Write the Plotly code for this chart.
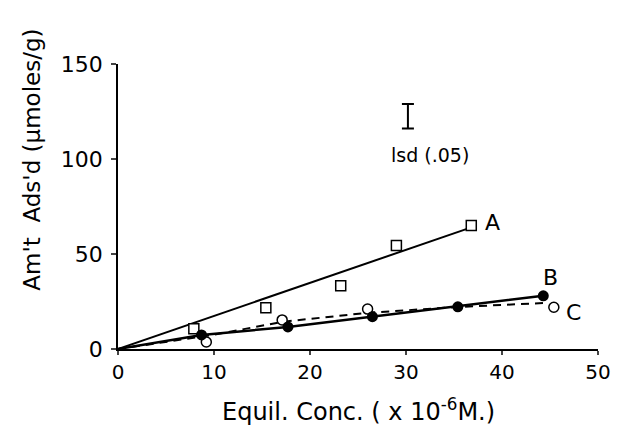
import plotly.graph_objects as go

# Series A (open squares) and its fitted line
a_x = [7.9, 15.4, 23.2, 29.0, 36.8]
a_y = [10.6, 21.7, 33.3, 54.5, 65.0]
a_fit_x = [0, 36.5]
a_fit_y = [0, 63.5]

# Series B (filled circles), joined from origin
b_x = [8.7, 17.7, 26.5, 35.4, 44.3]
b_y = [7.4, 11.6, 17.0, 22.2, 28.0]

# Series C (open circles) and dashed curve
c_x = [9.2, 17.1, 26.0, 45.4]
c_y = [3.7, 15.3, 21.0, 22.0]
c_fit_x = [0, 9.9, 17.1, 25.9, 35.0, 44.7]
c_fit_y = [0, 7.4, 14.3, 19.0, 22.0, 24.3]

# LSD bar
lsd_x = [30.2]
lsd_y = [122.5]
lsd_half = [6.5]

x_ticks = [0, 10, 20, 30, 40, 50]
y_ticks = [0, 50, 100, 150]

FONT = "DejaVu Sans"
fig = go.Figure()

fig.add_trace(go.Scatter(x=a_fit_x, y=a_fit_y, mode="lines",
                         line=dict(color="black", width=2), cliponaxis=False))
fig.add_trace(go.Scatter(x=[0] + b_x, y=[0] + b_y, mode="lines",
                         line=dict(color="black", width=2.5), cliponaxis=False))
fig.add_trace(go.Scatter(x=c_fit_x, y=c_fit_y, mode="lines",
                         line=dict(color="black", width=2, dash="8px,6px"), cliponaxis=False))
fig.add_trace(go.Scatter(x=a_x, y=a_y, mode="markers", cliponaxis=False,
                         marker=dict(symbol="square", size=10, color="white",
                                     line=dict(color="black", width=1.5))))
fig.add_trace(go.Scatter(x=c_x, y=c_y, mode="markers", cliponaxis=False,
                         marker=dict(symbol="circle", size=10, color="white",
                                     line=dict(color="black", width=1.5))))
fig.add_trace(go.Scatter(x=b_x, y=b_y, mode="markers", cliponaxis=False,
                         marker=dict(symbol="circle", size=11, color="black")))
fig.add_trace(go.Scatter(x=lsd_x, y=lsd_y, mode="markers", cliponaxis=False,
                         marker=dict(size=1, color="rgba(0,0,0,0)"),
                         error_y=dict(type="data", array=lsd_half, visible=True,
                                      color="black", thickness=2, width=6)))

ann = [
    dict(x=39.0, y=66.8, text="A"),
    dict(x=45.0, y=37.4, text="B"),
    dict(x=47.4, y=19.0, text="C"),
    dict(x=32.5, y=102, text="lsd (.05)", font=dict(size=19, family=FONT, color="black")),
]
for a in ann:
    a.setdefault("font", dict(size=22, family=FONT, color="black"))
    fig.add_annotation(xref="x", yref="y", showarrow=False, **a)

fig.add_annotation(xref="paper", yref="paper", x=-0.21, y=0.665, textangle=-90,
                   text="Am't  Ads'd (µmoles/g)", showarrow=False,
                   font=dict(size=23, family=FONT, color="black"))
fig.add_annotation(xref="paper", yref="paper", x=0.5, y=-0.215, yanchor="middle",
                   text="Equil. Conc. ( x 10<sup>-6</sup>M.)", showarrow=False,
                   font=dict(size=24, family=FONT, color="black"))

fig.update_layout(
    width=623, height=430,
    margin=dict(l=110, r=33, t=56, b=89),
    paper_bgcolor="white", plot_bgcolor="white",
    showlegend=False,
    font=dict(family=FONT, color="black"),
    xaxis=dict(range=[0, 50], tickvals=x_ticks, ticks="outside", ticklen=4,
               tickwidth=1.5, showline=True, linecolor="black", linewidth=1.5,
               showgrid=False, zeroline=False, tickfont=dict(size=20),
               automargin=False),
    yaxis=dict(range=[0, 150], tickvals=y_ticks, ticks="outside", ticklen=5,
               tickwidth=1.5, showline=True, linecolor="black", linewidth=1.5,
               showgrid=False, zeroline=False, tickfont=dict(size=22),
               ticklabelstandoff=4, automargin=False),
)

fig.write_html("out.html")
